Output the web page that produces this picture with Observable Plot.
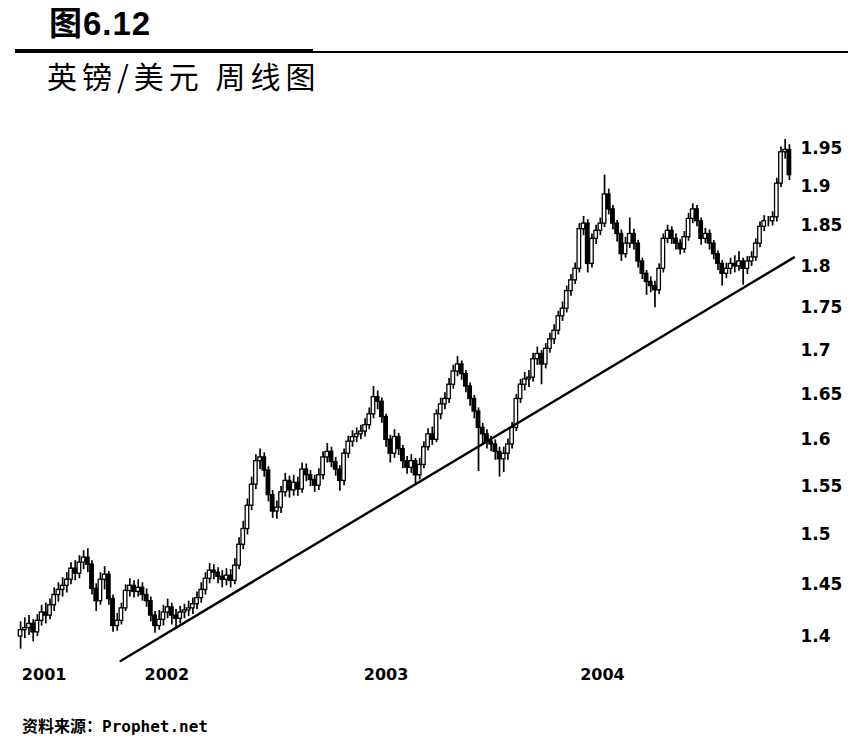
<!DOCTYPE html>
<html>
<head>
<meta charset="utf-8">
<script src="https://cdn.jsdelivr.net/npm/d3@7"></script>
<script src="https://cdn.jsdelivr.net/npm/@observablehq/plot@0.6"></script>
<style>
  html, body { margin: 0; padding: 0; background: #fff; }
  #page { position: relative; width: 861px; height: 754px; overflow: hidden; background: #fff; }
  #title { position: absolute; left: 49px; top: 7px; font: bold 33px/33px "Liberation Sans", "Noto Sans CJK SC", sans-serif; color: #000; letter-spacing: 1px; white-space: nowrap; }
  #ruleThick { position: absolute; left: 15px; top: 49px; width: 298px; height: 4px; background: #000; }
  #ruleThin { position: absolute; left: 313px; top: 51px; width: 535px; height: 1.5px; background: #000; }
  #subtitle { position: absolute; left: 47px; top: 60px; font: 400 30px/30px "Noto Sans CJK SC", sans-serif; color: #000; letter-spacing: 5px; white-space: nowrap; }
  #chart { position: absolute; left: 0; top: 100px; }
  #caption { position: absolute; left: 22px; top: 719px; font: bold 16px/16px "DejaVu Sans Mono", "Noto Sans CJK SC", monospace; color: #000; white-space: nowrap; }
</style>
</head>
<body>
<div id="page">
  <div id="title">图6.12</div>
  <div id="ruleThick"></div>
  <div id="ruleThin"></div>
  <div id="subtitle">英镑/美元 周线图</div>
  <div id="chart"></div>
  <div id="caption">资料来源：Prophet.net</div>
</div>
<script>
// Weekly GBP/USD candles (week index 0 = late April 2001)
const opens = [1.400,1.406,1.408,1.412,1.404,1.415,1.423,1.420,1.430,1.440,
 1.445,1.449,1.455,1.466,1.461,1.472,1.477,1.470,1.446,1.434,
 1.455,1.460,1.436,1.410,1.415,1.427,1.444,1.449,1.443,1.447,
 1.440,1.434,1.420,1.410,1.416,1.423,1.428,1.420,1.417,1.423,
 1.425,1.427,1.431,1.437,1.445,1.456,1.464,1.462,1.458,1.455,
 1.459,1.454,1.469,1.490,1.506,1.530,1.552,1.577,1.581,1.567,
 1.541,1.524,1.528,1.544,1.556,1.546,1.554,1.547,1.568,1.562,
 1.557,1.551,1.562,1.581,1.587,1.576,1.568,1.556,1.585,1.598,
 1.603,1.606,1.609,1.616,1.628,1.647,1.642,1.625,1.600,1.585,
 1.603,1.590,1.577,1.570,1.577,1.562,1.573,1.592,1.606,1.600,
 1.628,1.639,1.645,1.661,1.676,1.684,1.673,1.659,1.645,1.631,
 1.613,1.606,1.598,1.595,1.587,1.579,1.585,1.595,1.613,1.645,
 1.661,1.667,1.669,1.690,1.696,1.684,1.702,1.713,1.723,1.740,
 1.749,1.770,1.783,1.797,1.846,1.853,1.803,1.834,1.844,1.853,
 1.890,1.871,1.853,1.840,1.815,1.828,1.840,1.828,1.806,1.791,
 1.781,1.776,1.771,1.797,1.834,1.844,1.834,1.828,1.821,1.836,
 1.859,1.871,1.856,1.834,1.840,1.828,1.815,1.803,1.791,1.797,
 1.803,1.800,1.806,1.797,1.806,1.811,1.828,1.849,1.856,1.856,
 1.861,1.904,1.945,1.948];

const highs = [1.414,1.418,1.420,1.416,1.421,1.430,1.432,1.436,1.447,1.452,
 1.457,1.462,1.472,1.474,1.479,1.484,1.486,1.474,1.451,1.462,
 1.468,1.463,1.440,1.422,1.432,1.450,1.456,1.454,1.455,1.452,
 1.446,1.438,1.424,1.425,1.430,1.436,1.432,1.426,1.429,1.431,
 1.434,1.437,1.443,1.452,1.462,1.471,1.470,1.467,1.464,1.466,
 1.465,1.476,1.497,1.514,1.537,1.560,1.584,1.590,1.586,1.571,
 1.546,1.535,1.550,1.564,1.561,1.562,1.560,1.575,1.574,1.567,
 1.562,1.569,1.587,1.596,1.592,1.581,1.572,1.590,1.604,1.610,
 1.613,1.616,1.623,1.635,1.659,1.654,1.646,1.628,1.605,1.611,
 1.607,1.594,1.582,1.584,1.580,1.580,1.598,1.612,1.614,1.633,
 1.646,1.652,1.668,1.683,1.693,1.688,1.677,1.663,1.649,1.635,
 1.618,1.611,1.604,1.600,1.592,1.592,1.601,1.619,1.650,1.667,
 1.675,1.677,1.697,1.704,1.700,1.708,1.720,1.730,1.746,1.757,
 1.776,1.790,1.804,1.853,1.862,1.858,1.840,1.851,1.860,1.915,
 1.897,1.876,1.857,1.845,1.836,1.860,1.846,1.832,1.810,1.795,
 1.787,1.782,1.803,1.840,1.851,1.849,1.840,1.833,1.843,1.866,
 1.878,1.876,1.860,1.847,1.845,1.832,1.819,1.807,1.804,1.810,
 1.813,1.818,1.810,1.812,1.818,1.834,1.855,1.863,1.862,1.868,
 1.911,1.952,1.962,1.955];

const lows = [1.388,1.398,1.401,1.395,1.400,1.410,1.412,1.416,1.424,1.433,
 1.438,1.442,1.450,1.454,1.456,1.465,1.462,1.440,1.424,1.430,
 1.445,1.430,1.404,1.405,1.411,1.424,1.438,1.437,1.438,1.434,
 1.428,1.414,1.403,1.406,1.410,1.417,1.411,1.408,1.412,1.417,
 1.419,1.421,1.426,1.432,1.440,1.451,1.455,1.451,1.447,1.449,
 1.447,1.450,1.465,1.485,1.500,1.525,1.547,1.568,1.560,1.534,
 1.517,1.516,1.522,1.539,1.538,1.540,1.540,1.543,1.555,1.550,
 1.544,1.546,1.557,1.575,1.570,1.561,1.545,1.551,1.580,1.592,
 1.597,1.600,1.603,1.611,1.623,1.633,1.618,1.592,1.575,1.580,
 1.583,1.569,1.563,1.564,1.553,1.557,1.569,1.588,1.594,1.597,
 1.622,1.633,1.640,1.656,1.670,1.666,1.652,1.637,1.623,1.566,
 1.594,1.590,1.587,1.578,1.560,1.565,1.578,1.590,1.609,1.640,
 1.654,1.658,1.664,1.683,1.661,1.679,1.697,1.707,1.718,1.734,
 1.744,1.764,1.778,1.792,1.838,1.792,1.798,1.827,1.838,1.848,
 1.864,1.845,1.830,1.806,1.810,1.822,1.820,1.798,1.784,1.765,
 1.768,1.750,1.766,1.792,1.828,1.827,1.820,1.814,1.816,1.831,
 1.853,1.849,1.826,1.828,1.820,1.808,1.795,1.776,1.785,1.790,
 1.792,1.794,1.777,1.790,1.800,1.806,1.823,1.843,1.849,1.850,
 1.855,1.899,1.936,1.908];

const closes = [1.406,1.408,1.412,1.404,1.415,1.423,1.420,1.430,1.440,1.445,
 1.449,1.455,1.466,1.461,1.472,1.477,1.470,1.446,1.434,1.455,
 1.460,1.436,1.410,1.415,1.427,1.444,1.449,1.443,1.447,1.440,
 1.434,1.420,1.410,1.416,1.423,1.428,1.420,1.417,1.423,1.425,
 1.427,1.431,1.437,1.445,1.456,1.464,1.462,1.458,1.455,1.459,
 1.454,1.469,1.490,1.506,1.530,1.552,1.577,1.581,1.567,1.541,
 1.524,1.528,1.544,1.556,1.546,1.554,1.547,1.568,1.562,1.557,
 1.551,1.562,1.581,1.587,1.576,1.568,1.556,1.585,1.598,1.603,
 1.606,1.609,1.616,1.628,1.647,1.642,1.625,1.600,1.585,1.603,
 1.590,1.577,1.570,1.577,1.562,1.573,1.592,1.606,1.600,1.628,
 1.639,1.645,1.661,1.676,1.684,1.673,1.659,1.645,1.631,1.613,
 1.606,1.598,1.595,1.587,1.579,1.585,1.595,1.613,1.645,1.661,
 1.667,1.669,1.690,1.696,1.684,1.702,1.713,1.723,1.740,1.749,
 1.770,1.783,1.797,1.846,1.853,1.803,1.834,1.844,1.853,1.890,
 1.871,1.853,1.840,1.815,1.828,1.840,1.828,1.806,1.791,1.781,
 1.776,1.771,1.797,1.834,1.844,1.834,1.828,1.821,1.836,1.859,
 1.871,1.856,1.834,1.840,1.828,1.815,1.803,1.791,1.797,1.803,
 1.800,1.806,1.797,1.806,1.811,1.828,1.849,1.856,1.856,1.861,
 1.904,1.945,1.948,1.915];

// Year labels placed at week index of each year start
const yearLabels = ["2001", "2002", "2003", "2004"];
const yearWeeks = [5.6, 34.8, 87.0, 138.5];

// Y-axis tick values
const priceTicks = [1.4, 1.45, 1.5, 1.55, 1.6, 1.65, 1.7, 1.75, 1.8, 1.85, 1.9, 1.95];

// Trend line end points (week index, price)
const trendWeeks = [23.8, 184.1];
const trendPrices = [1.377, 1.811];

const candles = closes.map((c, i) => ({i, open: opens[i], high: highs[i], low: lows[i], close: c}));
const trend = trendWeeks.map((w, k) => ({i: w, p: trendPrices[k]}));

const chart = Plot.plot({
  width: 861,
  height: 590,
  marginLeft: 18,
  marginRight: 70,
  marginTop: 25.5,
  marginBottom: 32.8,
  style: {fontFamily: "DejaVu Sans, sans-serif", fontSize: "17px", fontWeight: "bold", color: "#000", background: "#fff", overflow: "visible"},
  x: {domain: [-0.5, 183.5], label: null},
  y: {type: "log", domain: [1.38, 1.98], label: null},
  color: {type: "identity"},
  marks: [
    Plot.ruleX(candles, {x: "i", y1: "low", y2: "high", stroke: "#000", strokeWidth: 1.7}),
    Plot.rect(candles, {
      x1: d => d.i - 0.42,
      x2: d => d.i + 0.42,
      y1: "open",
      y2: "close",
      fill: d => d.close >= d.open ? "#fff" : "#000",
      stroke: "#000",
      strokeWidth: 1.3
    }),
    Plot.line(trend, {x: "i", y: "p", stroke: "#000", strokeWidth: 2.4}),
    Plot.axisY({anchor: "right", ticks: priceTicks, tickSize: 0, tickPadding: 9, tickFormat: d => String(d), fontSize: 17, label: null}),
    Plot.axisX({ticks: yearWeeks, tickSize: 0, tickPadding: 11, tickFormat: d => yearLabels[yearWeeks.indexOf(d)], fontSize: 16, label: null})
  ]
});
document.getElementById("chart").appendChild(chart);
</script>
</body>
</html>
